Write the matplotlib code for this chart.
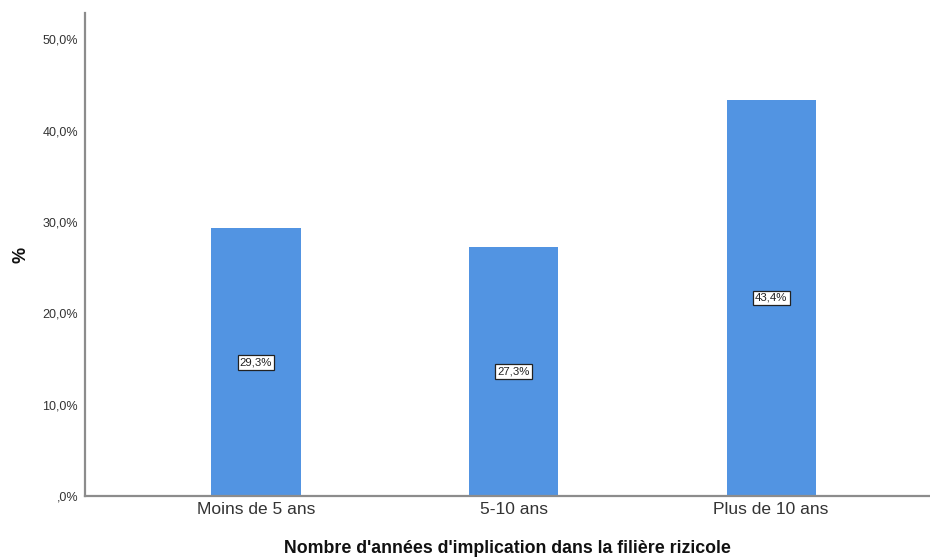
import matplotlib
matplotlib.use("Agg")
from matplotlib import pyplot as plt

plt.rcParams['font.family'] = ['Liberation Sans', 'DejaVu Sans']

categories = ["Moins de 5 ans", "5-10 ans", "Plus de 10 ans"]
pourcentages = [29.3, 27.3, 43.4]
yticks = [0, 10, 20, 30, 40, 50]
ytick_labels = [",0%", "10,0%", "20,0%", "30,0%", "40,0%", "50,0%"]

fig = plt.figure(figsize=(9.3, 5.58), dpi=100)
ax = fig.add_axes([0.0914, 0.111, 0.9086, 0.866])

x = list(range(len(categories)))
ax.bar(x, pourcentages, width=0.346, color='#5294E2', zorder=2)

# valeur au milieu de chaque barre
for xi, v in zip(x, pourcentages):
    lab = ("%.1f%%" % v).replace('.', ',')
    ax.text(xi, v / 2, lab, ha='center', va='center', fontsize=8.2, color='#222222',
            bbox=dict(boxstyle='square,pad=0.2', fc='white', ec='#222222', lw=0.9), zorder=3)

ax.set_xlim(-0.664, 2.617)
ax.set_ylim(0, 52.9)
ax.set_xticks(x)
ax.set_xticklabels(categories, fontsize=12.5, color='#333333')
ax.set_yticks(yticks)
ax.set_yticklabels(ytick_labels, fontsize=9, color='#333333')
ax.tick_params(axis='both', length=0)
ax.tick_params(axis='x', pad=4)
ax.tick_params(axis='y', pad=5)

for side in ['top', 'right']:
    ax.spines[side].set_visible(False)
for side in ['left', 'bottom']:
    ax.spines[side].set_color('#8c8c8c')
    ax.spines[side].set_linewidth(1.6)

ax.set_xlabel("Nombre d'années d'implication dans la filière rizicole", fontsize=12.8,
              fontweight='bold', color='#111111', labelpad=17)
ax.set_ylabel("%", fontsize=13, fontweight='bold', color='#111111', labelpad=9)

fig.savefig("out.png", dpi=100)
